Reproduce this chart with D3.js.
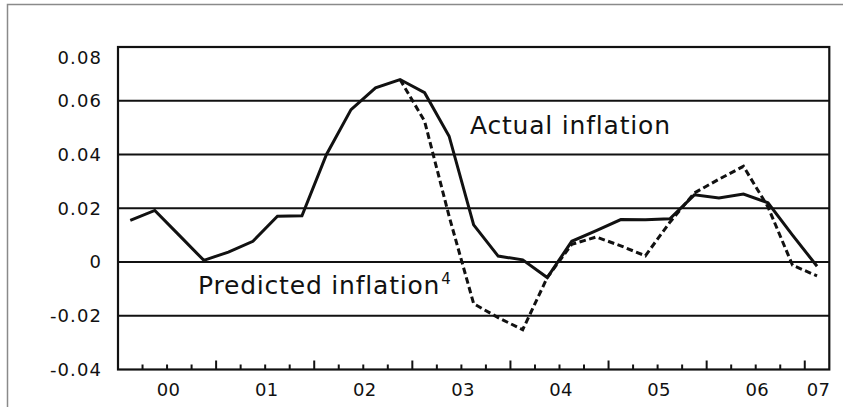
<!DOCTYPE html>
<html>
<head>
<meta charset="utf-8">
<script src="https://cdn.jsdelivr.net/npm/d3@7"></script>
<style>
  html, body { margin: 0; padding: 0; background: #fff; }
  svg { display: block; }
  text { font-family: "DejaVu Sans", sans-serif; fill: #111; }
</style>
</head>
<body>
<script>
// ---- data ----
const quarters = [
  "2000Q1","2000Q2","2000Q3","2000Q4",
  "2001Q1","2001Q2","2001Q3","2001Q4",
  "2002Q1","2002Q2","2002Q3","2002Q4",
  "2003Q1","2003Q2","2003Q3","2003Q4",
  "2004Q1","2004Q2","2004Q3","2004Q4",
  "2005Q1","2005Q2","2005Q3","2005Q4",
  "2006Q1","2006Q2","2006Q3","2006Q4",
  "2007Q1"
];
const actualInflation = [
  0.0155, 0.0192, 0.0099, 0.0006,
  0.0037, 0.0077, 0.0170, 0.0172,
  0.0400, 0.0567, 0.0648, 0.0679,
  0.0630, 0.0468, 0.0138, 0.0022,
  0.0008, -0.0058, 0.0077, 0.0117,
  0.0158, 0.0157, 0.0161, 0.0250,
  0.0238, 0.0253, 0.0220, 0.0100,
  -0.0016
];
const predictedInflation = [
  null, null, null, null,
  null, null, null, null,
  null, null, null, 0.0679,
  0.0524, 0.0170, -0.0155, -0.0207,
  -0.0252, -0.0058, 0.0066, 0.0093,
  0.0060, 0.0023, 0.0148, 0.0257,
  0.0308, 0.0356, 0.0205, -0.0012,
  -0.0052
];
const yTickValues = [-0.04, -0.02, 0, 0.02, 0.04, 0.06, 0.08];
const yTickLabels = ["-0.04", "-0.02", "0", "0.02", "0.04", "0.06", "0.08"];
const yearLabels = ["00", "01", "02", "03", "04", "05", "06", "07"];
const actualLabel = "Actual inflation";
const predictedLabel = "Predicted inflation";
const predictedNote = "4";

// ---- layout ----
const W = 843, H = 407;
const plot = { left: 118, top: 47, right: 829.3, bottom: 369.5 };

const svg = d3.select("body").append("svg")
  .attr("width", W).attr("height", H);

// outer gray frame (top & left visible)
svg.append("path")
  .attr("d", `M7.5,${H} V4.5 H${W}`)
  .attr("fill", "none")
  .attr("stroke", "#8a8a8a")
  .attr("stroke-width", 1.5);

const x = d3.scaleBand().domain(quarters).range([plot.left, plot.right]).padding(0);
const y = d3.scaleLinear().domain([-0.04, 0.08]).range([plot.bottom, plot.top]);
const xc = q => x(q) + x.bandwidth() / 2;

// gridlines
svg.append("g").selectAll("line")
  .data(yTickValues.filter(v => v > -0.04 && v < 0.08))
  .join("line")
  .attr("x1", plot.left).attr("x2", plot.right)
  .attr("y1", d => y(d)).attr("y2", d => y(d))
  .attr("stroke", "#111").attr("stroke-width", 2);

// plot frame
svg.append("rect")
  .attr("x", plot.left).attr("y", plot.top)
  .attr("width", plot.right - plot.left).attr("height", plot.bottom - plot.top)
  .attr("fill", "none").attr("stroke", "#111").attr("stroke-width", 2.2);

// y axis labels
const yAxis = d3.axisLeft(y)
  .tickValues(yTickValues)
  .tickSize(0)
  .tickPadding(16)
  .tickFormat((d, i) => yTickLabels[i]);
const gy = svg.append("g")
  .attr("transform", `translate(${plot.left},0)`)
  .call(yAxis);
gy.select(".domain").remove();
gy.selectAll("text")
  .style("font-family", '"DejaVu Sans", sans-serif')
  .style("font-size", "18px")
  .style("letter-spacing", "1.1px")
  .attr("fill", "#111");
gy.selectAll(".tick").filter(d => d === 0.08).select("text").attr("dy", "0.9em");

// x axis ticks (inside, at quarter boundaries; year boundaries longer)
const tickData = quarters.map(q => ({ pos: x(q), major: q.endsWith("Q1") }))
  .filter((d, i) => i > 0);
svg.append("g").selectAll("line")
  .data(tickData)
  .join("line")
  .attr("x1", d => d.pos).attr("x2", d => d.pos)
  .attr("y1", plot.bottom).attr("y2", d => plot.bottom - (d.major ? 9 : 5))
  .attr("stroke", "#111").attr("stroke-width", 2);

// year labels centred under each year's quarters
const years = yearLabels.map(lbl => {
  const qs = quarters.filter(q => q.slice(2, 4) === lbl);
  return { lbl, cx: d3.mean(qs, q => xc(q)) };
});
svg.append("g").selectAll("text")
  .data(years)
  .join("text")
  .attr("x", d => d.cx + 1.5)
  .attr("y", 395.5)
  .attr("text-anchor", "middle")
  .style("font-size", "18px")
  .style("letter-spacing", "0.3px")
  .text(d => d.lbl);

// series lines
const line = d3.line()
  .defined(d => d.v !== null)
  .x(d => xc(d.q))
  .y(d => y(d.v));

const actualData = quarters.map((q, i) => ({ q, v: actualInflation[i] }));
const predictedData = quarters.map((q, i) => ({ q, v: predictedInflation[i] }));

svg.append("path")
  .datum(predictedData)
  .attr("d", line)
  .attr("fill", "none")
  .attr("stroke", "#111")
  .attr("stroke-width", 3)
  .attr("stroke-dasharray", "6.5,3.5")
  .attr("stroke-linejoin", "miter");

svg.append("path")
  .datum(actualData)
  .attr("d", line)
  .attr("fill", "none")
  .attr("stroke", "#111")
  .attr("stroke-width", 3)
  .attr("stroke-linejoin", "miter");

// annotations
svg.append("text")
  .attr("x", 470).attr("y", 133.5)
  .style("font-size", "25px")
  .style("letter-spacing", "0.8px")
  .text(actualLabel);

const pt = svg.append("text")
  .attr("x", 198).attr("y", 293.5)
  .style("font-size", "25px")
  .style("letter-spacing", "0.8px");
pt.append("tspan").text(predictedLabel);
pt.append("tspan")
  .attr("dy", -10)
  .attr("dx", 1)
  .style("font-size", "15px")
  .text(predictedNote);
</script>
</body>
</html>
